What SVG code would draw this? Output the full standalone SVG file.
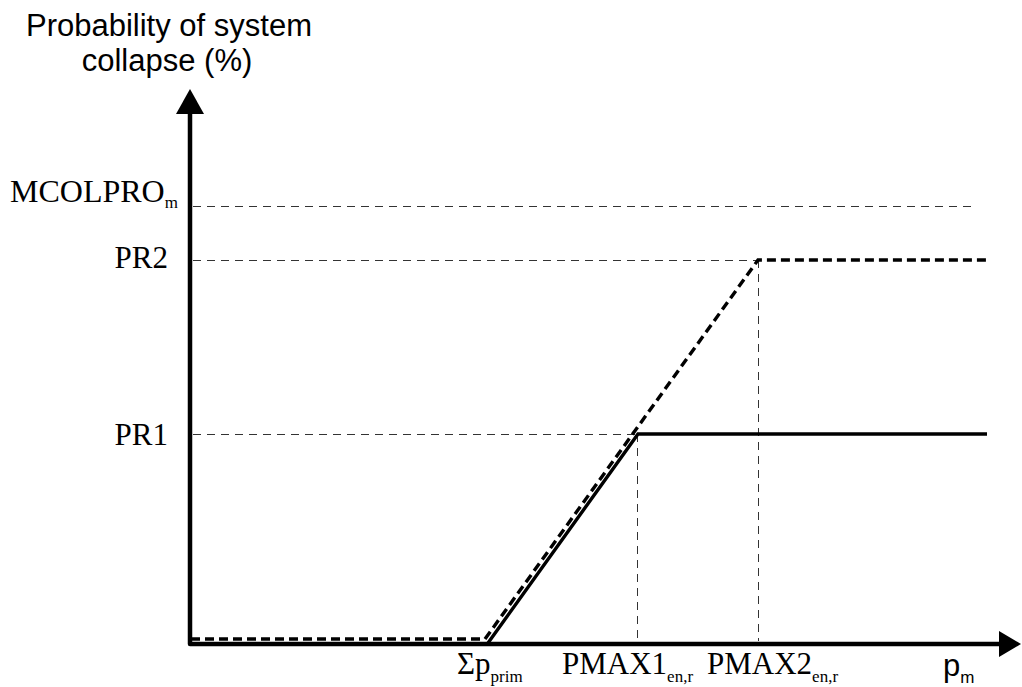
<svg xmlns="http://www.w3.org/2000/svg" width="1022" height="687" viewBox="0 0 1022 687">
<style>
.guide{stroke:#333;stroke-width:1;stroke-dasharray:8,6;fill:none}
.axis{stroke:#000;stroke-width:4.5;fill:none;stroke-linejoin:round}
.solid{stroke:#000;stroke-width:3.4;fill:none;stroke-linejoin:miter}
.bold-dash{stroke:#000;stroke-width:3.4;fill:none;stroke-dasharray:9,5}
.serif{font-family:"Liberation Serif","Times New Roman",serif;font-size:31px;fill:#000}
.sans{font-family:"Liberation Sans",Arial,sans-serif;font-size:31px;fill:#000}
.sub{font-size:17px}
</style>
<rect width="1022" height="687" fill="#fff"/>
<g id="guides">
<line class="guide" x1="193" y1="206.5" x2="972" y2="206.5"/>
<line class="guide" x1="193" y1="260.5" x2="758" y2="260.5"/>
<line class="guide" x1="193" y1="434.5" x2="637" y2="434.5"/>
<line class="guide" x1="637.5" y1="434" x2="637.5" y2="641"/>
<line class="guide" x1="758.5" y1="260" x2="758.5" y2="641"/>
</g>
<g id="axes">
<path class="axis" d="M190,110 L190,644 L1002,644"/>
<polygon points="190,89 176,114 204,114" fill="#000"/>
<polygon points="1021,644 999,631 999,657" fill="#000"/>
</g>
<g id="curves">
<path class="solid" d="M488,643 L638,434 L987,434"/>
<path class="bold-dash" d="M191,639 L485,639 L758,260 L987,260"/>
</g>
<g id="y-title">
<text class="sans" x="169" y="36" text-anchor="middle">Probability of system</text>
<text class="sans" x="167" y="71" text-anchor="middle">collapse (%)</text>
</g>
<g id="y-labels">
<text class="serif" x="10" y="202" style="font-size:32px">MCOLPRO<tspan class="sub" dy="6">m</tspan></text>
<text class="serif" x="168" y="268" text-anchor="end">PR2</text>
<text class="serif" x="168" y="445" text-anchor="end">PR1</text>
</g>
<g id="x-labels">
<text class="serif" x="457" y="674">Σp<tspan class="sub" dy="8">prim</tspan></text>
<text class="serif" x="562" y="674">PMAX1<tspan class="sub" dy="8">en,r</tspan></text>
<text class="serif" x="707" y="674">PMAX2<tspan class="sub" dy="8">en,r</tspan></text>
<text class="sans" x="943" y="676">p<tspan class="sub" dy="7">m</tspan></text>
</g>
</svg>
